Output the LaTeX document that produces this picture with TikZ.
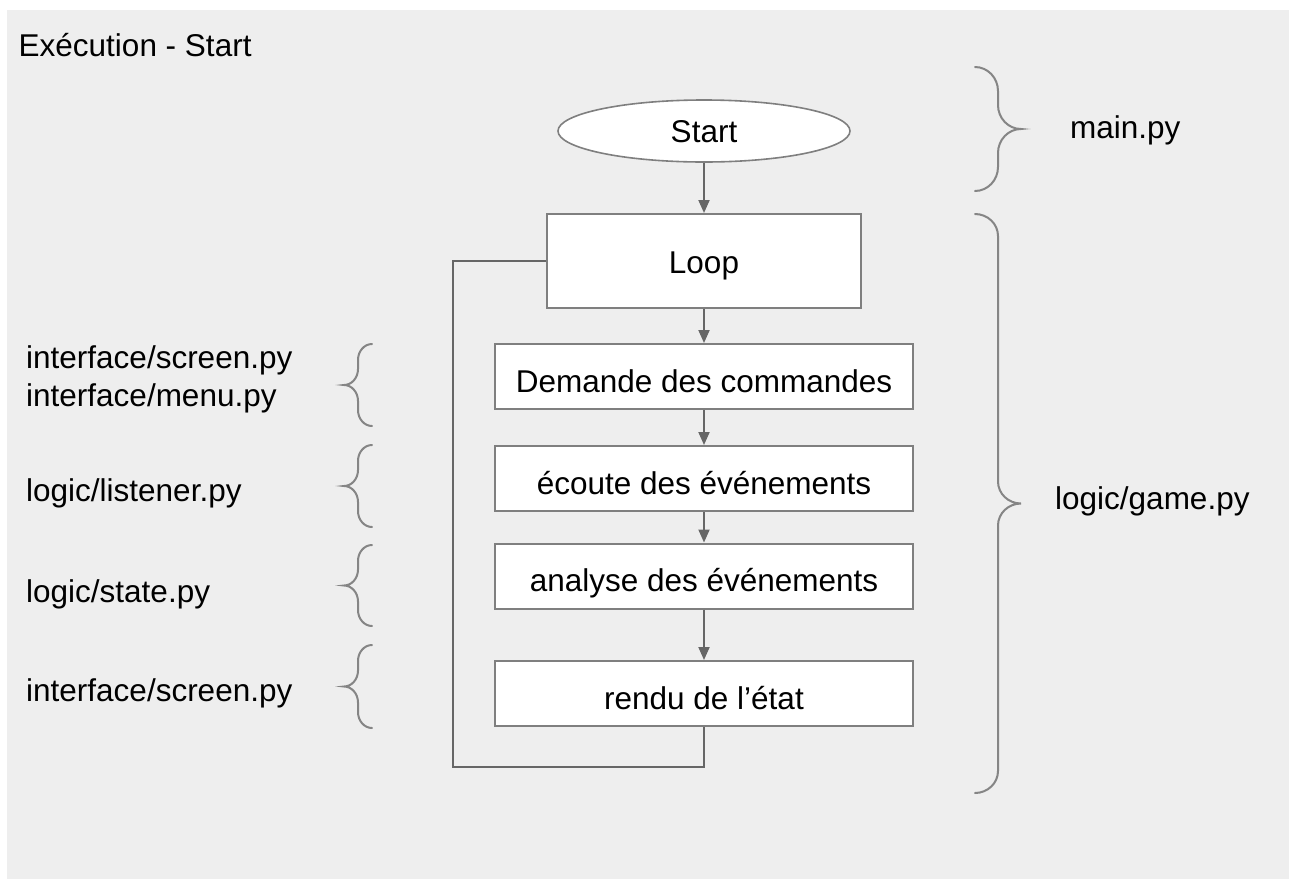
\documentclass[tikz,border=0pt]{standalone}
\usepackage{fontspec}
\setmainfont{Liberation Sans}
\usetikzlibrary{shapes.geometric,arrows.meta}
\definecolor{bgc}{HTML}{EEEEEE}
\definecolor{conc}{HTML}{666666}
\definecolor{boxc}{HTML}{7F7F7F}
\definecolor{brc}{HTML}{858585}
% curly brace: #1 end x, #2 point x, #3 top y, #4 bottom y, #5 curve size
\newcommand{\curlybrace}[5]{%
  \draw[bracestyle]
    (#1,#3) .. controls ({#1+0.552*((#1+#2)/2-#1)},#3) and ({(#1+#2)/2},{#3+0.448*#5}) .. ({(#1+#2)/2},{#3+#5})
    -- ({(#1+#2)/2},{(#3+#4)/2-#5})
    .. controls ({(#1+#2)/2},{(#3+#4)/2-0.448*#5}) and ({#2-0.552*(#2-(#1+#2)/2)},{(#3+#4)/2}) .. (#2,{(#3+#4)/2})
    .. controls ({#2-0.552*(#2-(#1+#2)/2)},{(#3+#4)/2}) and ({(#1+#2)/2},{(#3+#4)/2+0.448*#5}) .. ({(#1+#2)/2},{(#3+#4)/2+#5})
    -- ({(#1+#2)/2},{#4-#5})
    .. controls ({(#1+#2)/2},{#4-0.448*#5}) and ({#1+0.552*((#1+#2)/2-#1)},#4) .. (#1,#4);}
\begin{document}
\begin{tikzpicture}[x=1pt,y=-1pt,
  every node/.style={font=\fontsize{31.5pt}{38pt}\selectfont, text=black},
  stepbox/.style={draw=boxc, line width=2pt, fill=white, inner sep=0pt,
    minimum width=418pt, minimum height=65pt, text height=31pt, text depth=0pt},
  loopbox/.style={stepbox, minimum width=314pt, minimum height=94pt, text height=25pt},
  startshape/.style={ellipse, draw=boxc, line width=1.6pt, fill=white, inner sep=0pt,
    minimum width=292pt, minimum height=62pt, text height=22.5pt, text depth=0pt},
  conn/.style={draw=conc, line width=2pt},
  arr/.style={conn, -{Triangle[width=11pt,length=13pt]}},
  bracestyle/.style={draw=brc, line width=2pt, line cap=round},
  lbl/.style={anchor=base west, inner sep=0pt, align=left}
  ]
\useasboundingbox (0,0) rectangle (1291,879);
\fill[white] (0,0) rectangle (1291,879);
\fill[bgc] (7,10) rectangle (1289,879);

\node[lbl] (title) at (18.5,56) {Exécution - Start};

\node[startshape] (start) at (704,131) {Start};
\node[loopbox] (loop) at (704,261) {Loop};
\node[stepbox] (dem) at (704,376.5) {Demande des commandes};
\node[stepbox] (ecoute) at (704,478.5) {écoute des événements};
\node[stepbox] (analyse) at (704,576) {analyse des événements};
\node[stepbox] (rendu) at (704,693.5) {rendu de l’état};

\draw[arr] (start.south) -- (loop.north);
\draw[arr] (loop.south) -- (dem.north);
\draw[arr] (dem.south) -- (ecoute.north);
\draw[arr] (ecoute.south) -- (analyse.north);
\draw[arr] (analyse.south) -- (rendu.north);
\coordinate (lb) at (453,767);
\draw[conn] (rendu.south) |- (lb) |- (loop.west);

% right braces and labels
\curlybrace{975}{1021}{67}{191}{24}
\curlybrace{975}{1021}{214}{793}{22}
\node[lbl] (mainpy) at (1070,138) {main.py};
\node[lbl] (gamepy) at (1055,509) {logic/game.py};

% left braces and labels
\curlybrace{372}{344}{344}{426}{16}
\curlybrace{372}{344}{445}{527}{16}
\curlybrace{372}{344}{545}{626}{16}
\curlybrace{372}{344}{645}{728}{16}
\node[lbl] (l1) at (26,406) {interface/screen.py\\interface/menu.py};
\node[lbl] (l2) at (26,501) {logic/listener.py};
\node[lbl] (l3) at (26,602) {logic/state.py};
\node[lbl] (l4) at (26,701) {interface/screen.py};
\end{tikzpicture}
\end{document}
